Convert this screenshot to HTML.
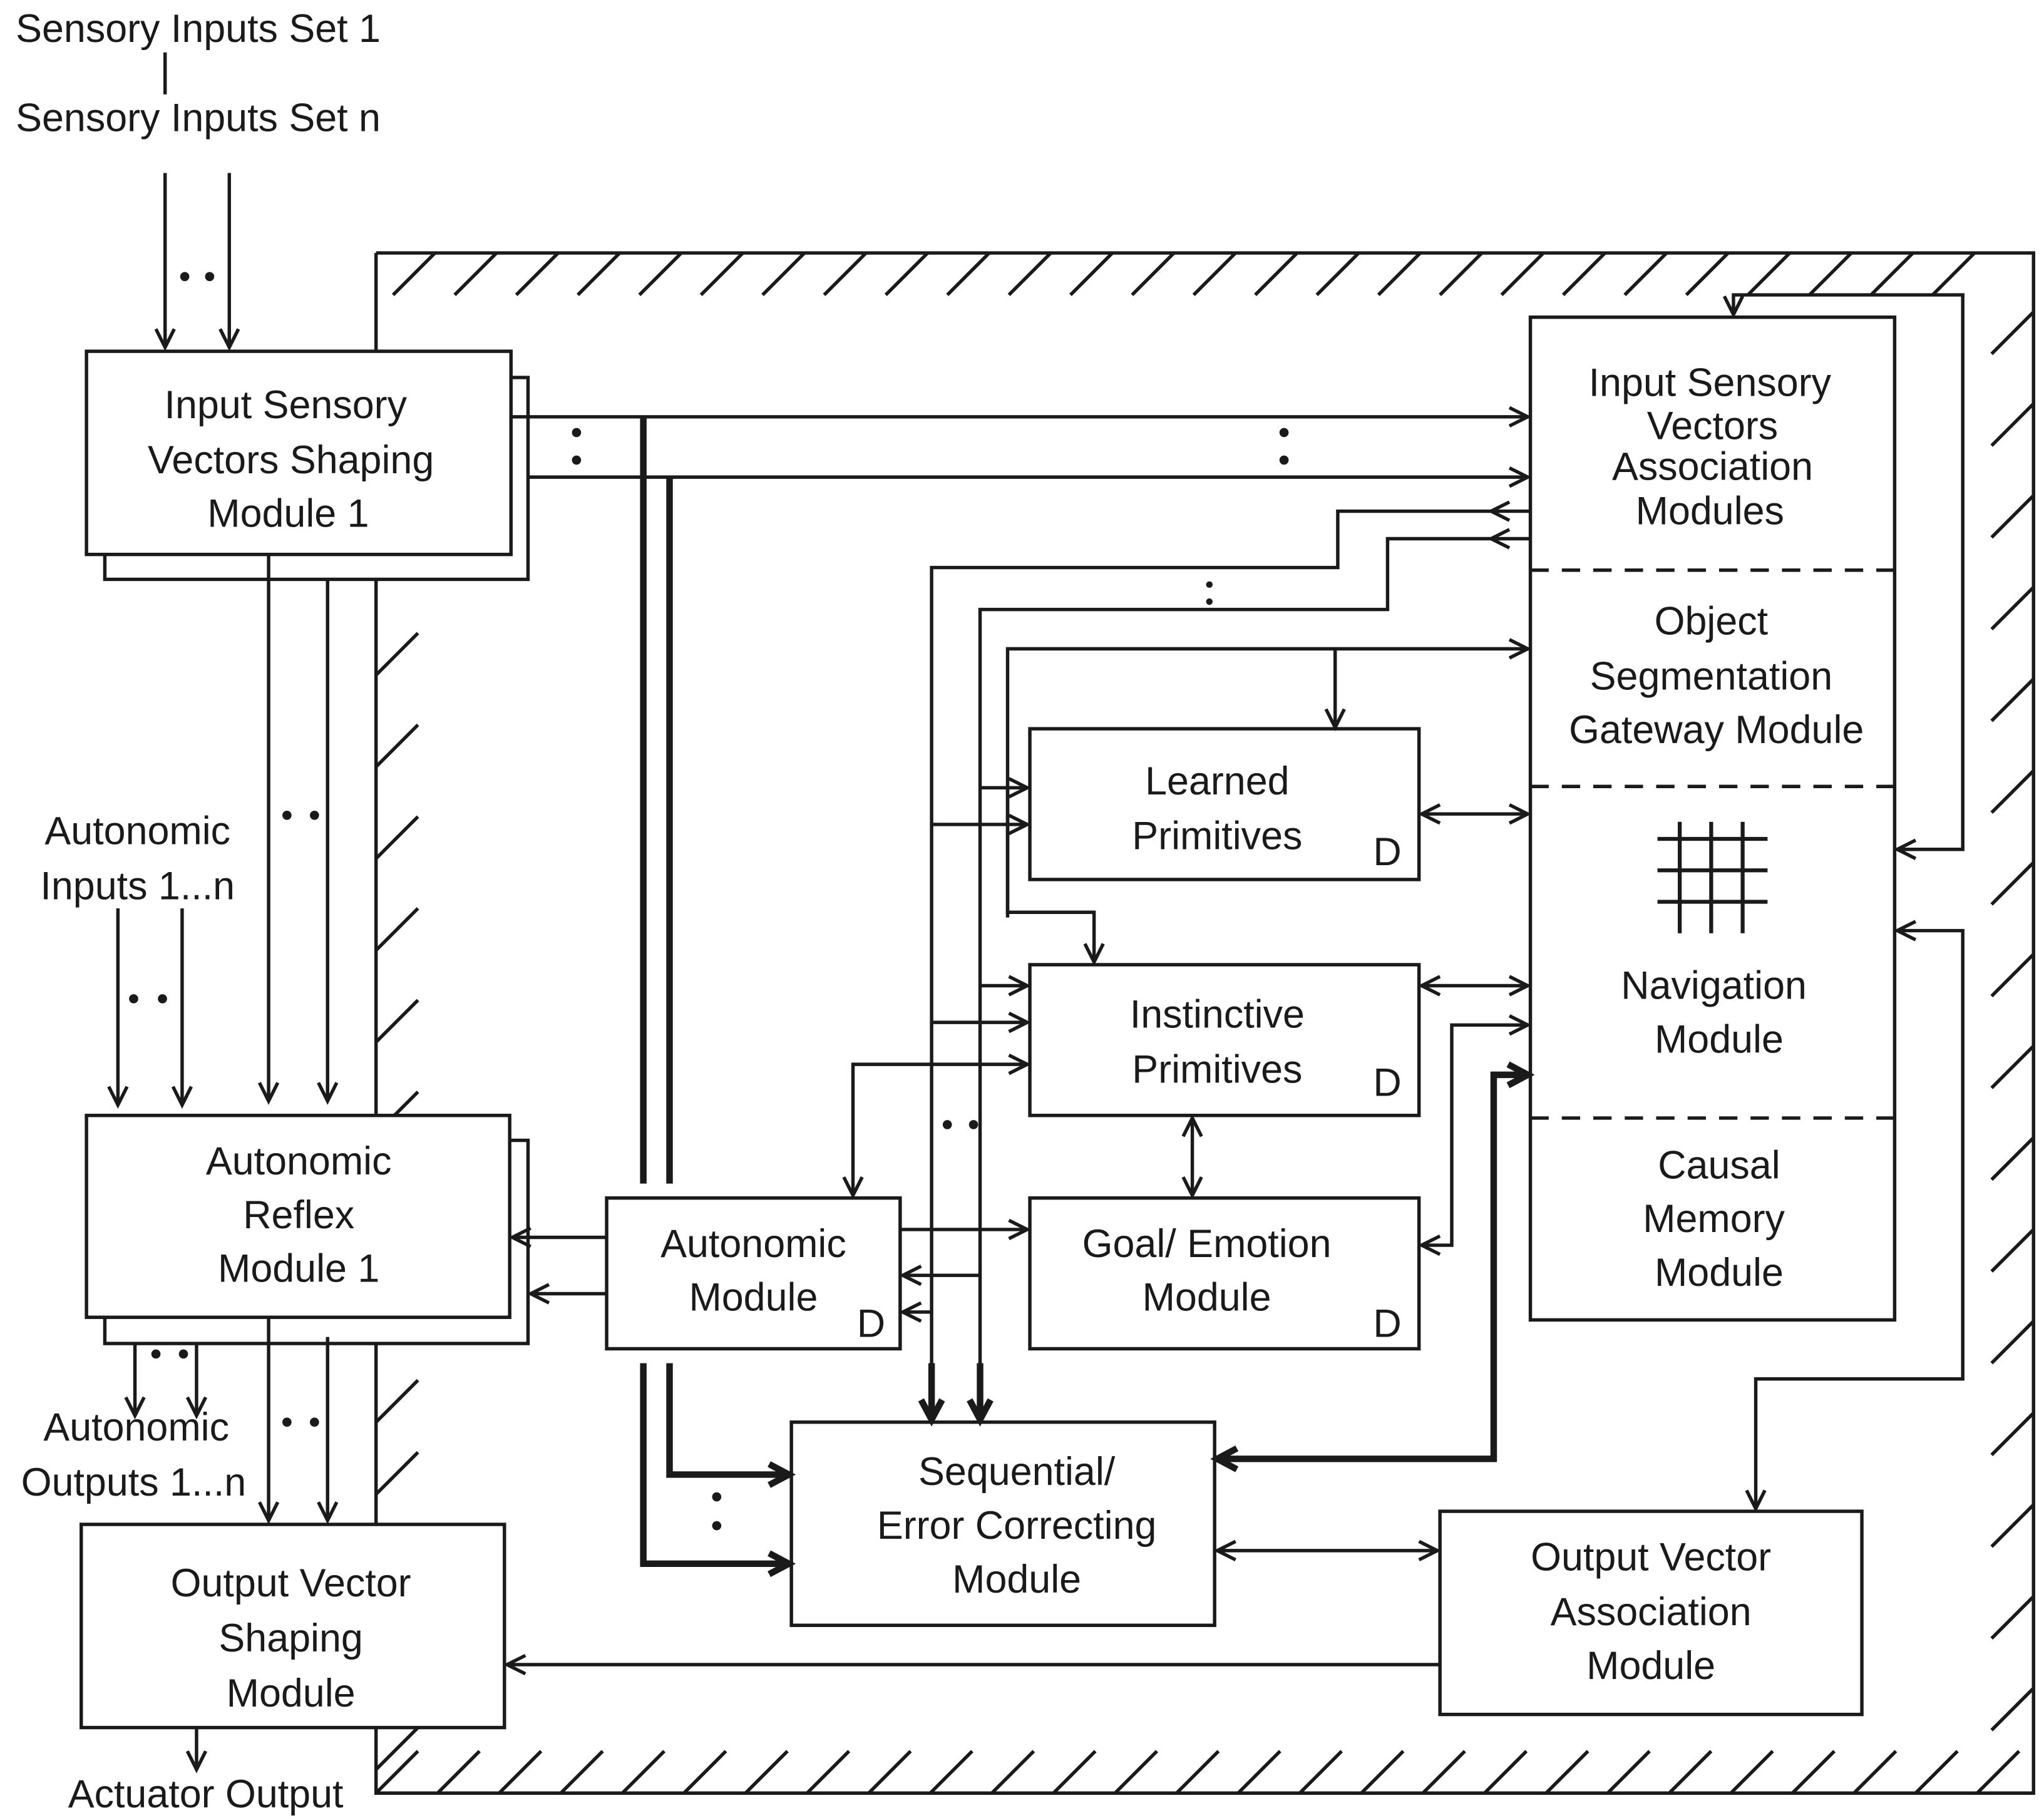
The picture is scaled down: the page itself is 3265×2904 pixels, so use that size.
<!DOCTYPE html>
<html><head><meta charset="utf-8"><style>
html,body{margin:0;padding:0;background:#fff;}
svg{display:block;}
text{font-family:"Liberation Sans",sans-serif;font-size:30px;fill:#1a1a1a;}
</style></head><body>
<svg width="3265" height="2904" viewBox="0 0 1560 1387" preserveAspectRatio="none" xmlns="http://www.w3.org/2000/svg">
<defs>
<marker id="a" markerWidth="20" markerHeight="20" refX="15" refY="8" orient="auto" markerUnits="userSpaceOnUse" viewBox="0 0 20 16">
<path d="M1,1 L15,8 L1,15" fill="none" stroke="#1a1a1a" stroke-width="2.6"/></marker>
<marker id="s" markerWidth="20" markerHeight="20" refX="15" refY="8" orient="auto-start-reverse" markerUnits="userSpaceOnUse" viewBox="0 0 20 16">
<path d="M1,1 L15,8 L1,15" fill="none" stroke="#1a1a1a" stroke-width="2.6"/></marker>
<marker id="t" markerWidth="24" markerHeight="24" refX="17" refY="10" orient="auto-start-reverse" markerUnits="userSpaceOnUse" viewBox="0 0 24 20">
<path d="M2,2 L17,10 L2,18" fill="none" stroke="#1a1a1a" stroke-width="5"/></marker>
</defs>
<g stroke="#1a1a1a" stroke-width="2.6" fill="none">
<path d="M287,193 H1552 V1368 H287 V193"/>
<path d="M300,225 L332,193 M347,225 L379,193 M394,225 L426,193 M441,225 L473,193 M488,225 L520,193 M535,225 L567,193 M582,225 L614,193 M629,225 L661,193 M676,225 L708,193 M723,225 L755,193 M770,225 L802,193 M817,225 L849,193 M864,225 L896,193 M911,225 L943,193 M958,225 L990,193 M1005,225 L1037,193 M1052,225 L1084,193 M1099,225 L1131,193 M1146,225 L1178,193 M1193,225 L1225,193 M1240,225 L1272,193 M1287,225 L1319,193 M1334,225 L1366,193 M1381,225 L1413,193 M1428,225 L1460,193 M1475,225 L1507,193"/>
<path d="M287,1368 L319,1336 M334,1368 L366,1336 M381,1368 L413,1336 M428,1368 L460,1336 M475,1368 L507,1336 M522,1368 L554,1336 M569,1368 L601,1336 M616,1368 L648,1336 M663,1368 L695,1336 M710,1368 L742,1336 M757,1368 L789,1336 M804,1368 L836,1336 M851,1368 L883,1336 M898,1368 L930,1336 M945,1368 L977,1336 M992,1368 L1024,1336 M1039,1368 L1071,1336 M1086,1368 L1118,1336 M1133,1368 L1165,1336 M1180,1368 L1212,1336 M1227,1368 L1259,1336 M1274,1368 L1306,1336 M1321,1368 L1353,1336 M1368,1368 L1400,1336 M1415,1368 L1447,1336 M1462,1368 L1494,1336 M1509,1368 L1541,1336"/>
<path d="M1520,270 L1552,238 M1520,340 L1552,308 M1520,410 L1552,378 M1520,480 L1552,448 M1520,550 L1552,518 M1520,620 L1552,588 M1520,690 L1552,658 M1520,760 L1552,728 M1520,830 L1552,798 M1520,900 L1552,868 M1520,970 L1552,938 M1520,1040 L1552,1008 M1520,1110 L1552,1078 M1520,1180 L1552,1148 M1520,1250 L1552,1218 M1520,1320 L1552,1288"/>
<path d="M287,515 L319,483 M287,585 L319,553 M287,655 L319,623 M287,725 L319,693 M287,795 L319,763 M287,865 L319,833 M287,1085 L319,1053 M287,1140 L319,1108 M287,1350 L319,1318"/>
<g fill="#fff">
<rect x="80" y="288" width="323" height="154"/>
<rect x="66" y="268" width="324" height="155"/>
<rect x="80" y="870" width="323" height="155"/>
<rect x="66" y="851" width="323" height="154"/>
<rect x="62" y="1163" width="323" height="155"/>
<rect x="463" y="914" width="224" height="115"/>
<rect x="786" y="556" width="297" height="115"/>
<rect x="786" y="736" width="297" height="115"/>
<rect x="786" y="914" width="297" height="115"/>
<rect x="604" y="1085" width="323" height="155"/>
<rect x="1099" y="1153" width="322" height="155"/>
<rect x="1168" y="242" width="278" height="765"/>
</g>
<path d="M1168,435 H1446 M1168,600 H1446 M1168,853 H1446" stroke-dasharray="14,10"/>
<path d="M1265,640 H1349 M1265,664 H1349 M1265,688 H1349 M1282,627 V712 M1306,627 V712 M1330,627 V712" stroke-width="3"/>
<path d="M126,40 V72"/>
<path d="M126,132 V265" marker-end="url(#a)"/>
<path d="M175,132 V265" marker-end="url(#a)"/>
<path d="M390,318 H1166" marker-end="url(#a)"/>
<path d="M403,364 H1166" marker-end="url(#a)"/>
<path d="M205,423 V840" marker-end="url(#a)"/>
<path d="M250,442 V840" marker-end="url(#a)"/>
<path d="M90,693 V843" marker-end="url(#a)"/>
<path d="M139,693 V843" marker-end="url(#a)"/>
<path d="M103,1025 V1080" marker-end="url(#a)"/>
<path d="M150,1025 V1080" marker-end="url(#a)"/>
<path d="M205,1005 V1160" marker-end="url(#a)"/>
<path d="M250,1020 V1160" marker-end="url(#a)"/>
<path d="M150,1318 V1350" marker-end="url(#a)"/>
<path d="M463,944 H391" marker-end="url(#a)"/>
<path d="M463,987 H405" marker-end="url(#a)"/>
<path d="M1099,1270 H387" marker-end="url(#a)"/>
<path d="M929,1183 H1097" marker-start="url(#s)" marker-end="url(#s)"/>
<path d="M491,318 V903 M511,364 V903" stroke-width="5"/>
<path d="M511,1040 V1125 H602" stroke-width="5" marker-end="url(#t)"/>
<path d="M491,1040 V1193 H602" stroke-width="5" marker-end="url(#t)"/>
<path d="M929,1113 H1140 V820 H1166" stroke-width="5" marker-start="url(#t)" marker-end="url(#t)"/>
<path d="M711,1040 V1083" stroke-width="5" marker-end="url(#t)"/>
<path d="M748,1040 V1083" stroke-width="5" marker-end="url(#t)"/>
<path d="M1168,390 H1138" marker-end="url(#a)"/>
<path d="M1168,411 H1138" marker-end="url(#a)"/>
<path d="M1140,390 H1021 V433 H711 V1040 M1140,411 H1059 V465 H748 V1040"/>
<path d="M711,1001 H689" marker-end="url(#a)"/>
<path d="M748,973 H689" marker-end="url(#a)"/>
<path d="M769,700 V495 H1166" marker-end="url(#a)"/>
<path d="M1019,495 V555" marker-end="url(#a)"/>
<path d="M769,600 V696 H835 V734" marker-end="url(#a)"/>
<path d="M748,601 H784" marker-end="url(#a)"/>
<path d="M711,629 H784" marker-end="url(#a)"/>
<path d="M748,752 H784" marker-end="url(#a)"/>
<path d="M711,780 H784" marker-end="url(#a)"/>
<path d="M651,912 V812 H784" marker-start="url(#s)" marker-end="url(#a)"/>
<path d="M687,938 H784" marker-end="url(#a)"/>
<path d="M1085,621 H1166" marker-start="url(#s)" marker-end="url(#s)"/>
<path d="M1085,752 H1166" marker-start="url(#s)" marker-end="url(#s)"/>
<path d="M910,853 V912" marker-start="url(#s)" marker-end="url(#s)"/>
<path d="M1085,950 H1108 V782 H1166" marker-start="url(#s)" marker-end="url(#a)"/>
<path d="M1448,648 H1498 V225 H1323 V240" marker-start="url(#s)" marker-end="url(#a)"/>
<path d="M1448,710 H1498 V1052 H1340 V1151" marker-start="url(#s)" marker-end="url(#a)"/>
</g>
<g fill="#1a1a1a">
<circle cx="141" cy="211" r="3.5"/><circle cx="160" cy="211" r="3.5"/>
<circle cx="440" cy="330" r="3.5"/><circle cx="440" cy="351" r="3.5"/>
<circle cx="980" cy="330" r="3.5"/><circle cx="980" cy="351" r="3.5"/>
<circle cx="923" cy="446" r="2.5"/><circle cx="923" cy="459" r="2.5"/>
<circle cx="219" cy="622" r="3.5"/><circle cx="240" cy="622" r="3.5"/>
<circle cx="102" cy="762" r="3.5"/><circle cx="124" cy="762" r="3.5"/>
<circle cx="119" cy="1033" r="3.5"/><circle cx="140" cy="1033" r="3.5"/>
<circle cx="219" cy="1085" r="3.5"/><circle cx="240" cy="1085" r="3.5"/>
<circle cx="723" cy="858" r="3.5"/><circle cx="743" cy="858" r="3.5"/>
<circle cx="547" cy="1142" r="3.5"/><circle cx="547" cy="1164" r="3.5"/>
</g>
<text x="12" y="32">Sensory Inputs Set 1</text>
<text x="12" y="100">Sensory Inputs Set n</text>
<g text-anchor="middle">
<text x="218" y="319">Input Sensory</text>
<text x="222" y="361">Vectors Shaping</text>
<text x="220" y="402">Module 1</text>
<text x="105" y="644">Autonomic</text>
<text x="105" y="686">Inputs 1...n</text>
<text x="228" y="896">Autonomic</text>
<text x="228" y="937">Reflex</text>
<text x="228" y="978">Module 1</text>
<text x="104" y="1099">Autonomic</text>
<text x="102" y="1141">Outputs 1...n</text>
<text x="222" y="1218">Output Vector</text>
<text x="222" y="1260">Shaping</text>
<text x="222" y="1302">Module</text>
<text x="157" y="1379">Actuator Output</text>
<text x="575" y="959">Autonomic</text>
<text x="575" y="1000">Module</text>
<text x="929" y="606">Learned</text>
<text x="929" y="648">Primitives</text>
<text x="929" y="784">Instinctive</text>
<text x="929" y="826">Primitives</text>
<text x="921" y="959">Goal/ Emotion</text>
<text x="921" y="1000">Module</text>
<text x="776" y="1133">Sequential/</text>
<text x="776" y="1174">Error Correcting</text>
<text x="776" y="1215">Module</text>
<text x="1260" y="1198">Output Vector</text>
<text x="1260" y="1240">Association</text>
<text x="1260" y="1281">Module</text>
<text x="1305" y="302">Input Sensory</text>
<text x="1307" y="335">Vectors</text>
<text x="1307" y="366">Association</text>
<text x="1305" y="400">Modules</text>
<text x="1306" y="484">Object</text>
<text x="1306" y="526">Segmentation</text>
<text x="1310" y="567">Gateway Module</text>
<text x="1308" y="762">Navigation</text>
<text x="1312" y="803">Module</text>
<text x="1312" y="899">Causal</text>
<text x="1308" y="940">Memory</text>
<text x="1312" y="981">Module</text>
</g>
<text x="654" y="1020">D</text>
<text x="1048" y="660">D</text>
<text x="1048" y="836">D</text>
<text x="1048" y="1020">D</text>
</svg>
</body></html>
